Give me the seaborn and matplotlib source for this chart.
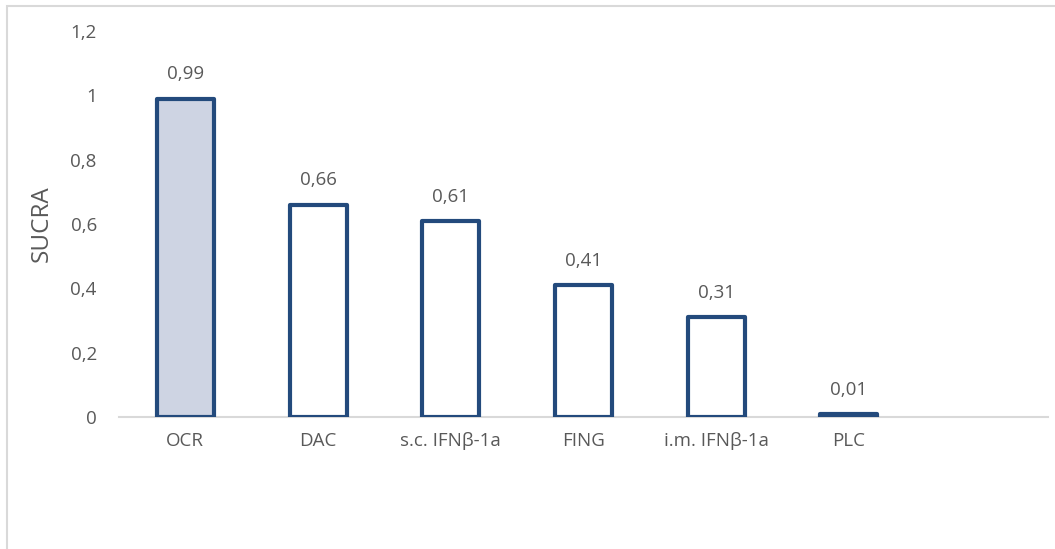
import matplotlib
matplotlib.use("Agg")
import matplotlib.pyplot as plt
from matplotlib.patches import Rectangle
from matplotlib.ticker import FixedLocator, FuncFormatter
import seaborn as sns

# SUCRA values per treatment
treatments = ["OCR", "DAC", "s.c. IFNβ-1a", "FING", "i.m. IFNβ-1a", "PLC"]
sucra = [0.99, 0.66, 0.61, 0.41, 0.31, 0.01]
fills = ["#CAD3E7", "#FFFFFF", "#FFFFFF", "#FFFFFF", "#FFFFFF", "#FFFFFF"]
y_ticks = [0, 0.2, 0.4, 0.6, 0.8, 1.0, 1.2]

edge = "#234A7C"
text_gray = "#595959"

sns.set_theme(style="white")
plt.rcParams["font.family"] = ["Open Sans", "DejaVu Sans"]

fig = plt.figure(figsize=(10.55, 5.49), dpi=100)
ax = fig.add_axes([119 / 1055, 1 - 417 / 549, (1048 - 119) / 1055, (417 - 31) / 549])

sns.barplot(x=treatments, y=sucra, hue=treatments, palette=fills, legend=False,
            edgecolor=edge, linewidth=3.0, width=0.43, ax=ax, zorder=3)
for p in ax.patches:
    p.set_joinstyle("round")

# room for one empty slot on the right of the category axis
ax.set_xlim(-0.5, len(treatments) + 0.5)
ax.set_ylim(0, 1.2)
ax.yaxis.set_major_locator(FixedLocator(y_ticks))
ax.yaxis.set_major_formatter(FuncFormatter(lambda v, _: f"{v:g}".replace(".", ",")))

for i, v in enumerate(sucra):
    ax.annotate(f"{v:.2f}".replace(".", ","), (i, v), xytext=(0, 11),
                textcoords="offset points", ha="center", va="bottom",
                fontsize=13.5, color=text_gray)

for s in ["top", "right", "left"]:
    ax.spines[s].set_visible(False)
ax.spines["bottom"].set_color("#D9D9D9")
ax.spines["bottom"].set_linewidth(1.5)
ax.spines["bottom"].set_zorder(2)

ax.tick_params(axis="both", length=0, labelsize=13.5, labelcolor=text_gray)
ax.tick_params(axis="y", pad=16)
ax.tick_params(axis="x", pad=11)
ax.set_ylabel("SUCRA", fontsize=17.5, color=text_gray, labelpad=12)
ax.set_xlabel("")

# chart frame
fig.patches.append(Rectangle((7 / 1055, -0.1), 1.2, 1.1 - 6.5 / 549,
                             transform=fig.transFigure, fill=False,
                             edgecolor="#D9D9D9", linewidth=1.5))

fig.savefig("out.png", dpi=100)
